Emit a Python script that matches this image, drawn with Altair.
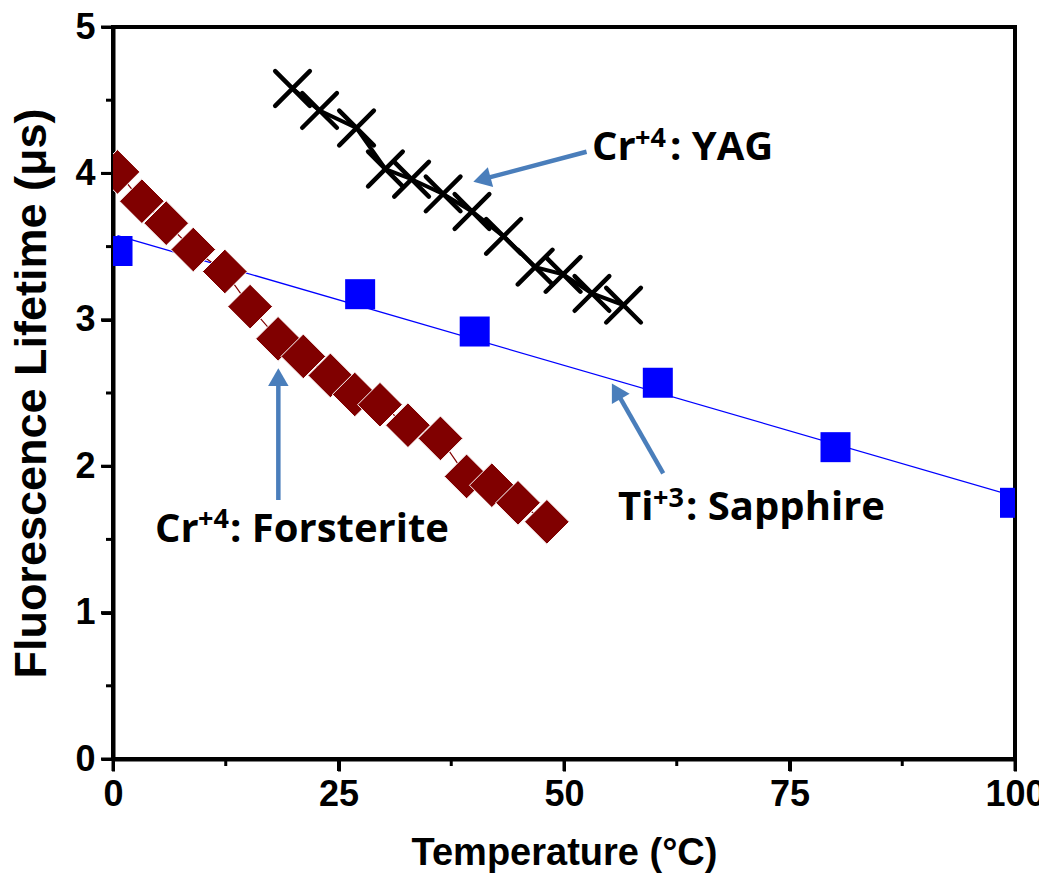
import altair as alt
import pandas as pd

# ---- data ----
yag_t = [19.9, 22.9, 27.0, 30.2, 33.1, 36.6, 39.8, 43.3, 46.8, 49.9, 53.1, 56.6]
yag_tau = [4.58, 4.43, 4.31, 4.03, 3.96, 3.86, 3.74, 3.57, 3.36, 3.31, 3.18, 3.10]

fo_t = [0.5, 3.2, 5.9, 8.9, 12.4, 15.2, 18.3, 21.1, 24.1, 26.8, 29.6, 32.7, 36.3, 39.2, 42.0, 44.9, 48.1]
fo_tau = [4.01, 3.81, 3.66, 3.48, 3.33, 3.09, 2.87, 2.75, 2.62, 2.49, 2.42, 2.28, 2.19, 1.93, 1.87, 1.75, 1.62]

sa_t = [0.5, 27.4, 40.1, 60.4, 80.1, 100.0]
sa_tau = [3.47, 3.175, 2.92, 2.57, 2.13, 1.75]

fit_t = [0.5, 100.0]
fit_tau = [3.575, 1.794]

x_major = [0, 25, 50, 75, 100]
x_minor = [12.5, 37.5, 62.5, 87.5]
y_major = [0, 1, 2, 3, 4, 5]
y_minor = [0.5, 1.5, 2.5, 3.5, 4.5]

# annotation labels (data coordinates): base text, superscript, remainder
base_text = ["Cr", "Cr", "Ti"]
base_t = [53.1, 4.66, 56.0]
base_tau = [4.091, 1.484, 1.633]
sup_text = ["+4", "+4", "+3"]
sup_t = [57.87, 9.42, 59.87]
sup_tau = [4.182, 1.575, 1.723]
rest_text = [": YAG", ": Forsterite", ": Sapphire"]
rest_t = [61.75, 12.97, 63.53]
rest_tau = [4.091, 1.484, 1.633]

# arrows
arrow_t = [52.5, 18.33, 61.0]
arrow_tau = [4.148, 1.769, 1.951]
arrow_t2 = [41.2, 18.33, 55.95]
arrow_tau2 = [3.964, 2.589, 2.495]
head_t = [40.9, 18.33, 55.8]
head_tau = [3.959, 2.609, 2.513]
head_angle = [255, 0, 330]

W, H = 902, 732
XMIN, XMAX, YMIN, YMAX = 0, 100, 0, 5
MINOR_PX = 7
MAJOR_PX = 12


def tick_frames(vals, length_px, axis):
    if axis == "x":
        d = length_px / H * (YMAX - YMIN)
        return pd.DataFrame({"t": vals, "tau": [YMIN - d] * len(vals),
                             "t2": vals, "tau2": [YMIN] * len(vals)})
    d = length_px / W * (XMAX - XMIN)
    return pd.DataFrame({"t": [XMIN - d] * len(vals), "tau": vals,
                         "t2": [XMIN] * len(vals), "tau2": vals})


yag = pd.DataFrame({"t": yag_t, "tau": yag_tau, "i": range(len(yag_t))})
fo = pd.DataFrame({"t": fo_t, "tau": fo_tau, "i": range(len(fo_t))})
sa = pd.DataFrame({"t": sa_t, "tau": sa_tau})
fit = pd.DataFrame({"t": fit_t, "tau": fit_tau})
base_df = pd.DataFrame({"t": base_t, "tau": base_tau, "txt": base_text})
sup_df = pd.DataFrame({"t": sup_t, "tau": sup_tau, "txt": sup_text})
rest_df = pd.DataFrame({"t": rest_t, "tau": rest_tau, "txt": rest_text})
arrows = pd.DataFrame({"t": arrow_t, "tau": arrow_tau, "t2": arrow_t2, "tau2": arrow_tau2})
heads = pd.DataFrame({"t": head_t, "tau": head_tau, "ang": head_angle})
ticks_df = pd.concat([
    tick_frames(x_minor, MINOR_PX, "x"), tick_frames(x_major, MAJOR_PX, "x"),
    tick_frames(y_minor, MINOR_PX, "y"), tick_frames(y_major, MAJOR_PX, "y"),
], ignore_index=True)

AXFONT = "Liberation Sans"
LBLFONT = "Open Sans"

xaxis = alt.Axis(values=x_major, format="d", tickSize=MAJOR_PX, labelFlush=False,
                 labelOverlap=False, labelPadding=6, titlePadding=22, grid=False,
                 titleFontSize=38)
yaxis = alt.Axis(values=y_major, format="d", tickSize=MAJOR_PX, labelFlush=False,
                 labelOverlap=False, labelPadding=6, titlePadding=20, grid=False,
                 titleFontSize=45)

X = alt.X("t:Q", scale=alt.Scale(domain=[XMIN, XMAX], nice=False, zero=False),
          axis=xaxis, title="Temperature (\u00b0C)")
Y = alt.Y("tau:Q", scale=alt.Scale(domain=[YMIN, YMAX], nice=False, zero=False),
          axis=yaxis, title="Fluorescence Lifetime (\u03bcs)")

fit_line = alt.Chart(fit).mark_line(color="#0000FF", strokeWidth=1.3, clip=True).encode(x=X, y=Y)
sa_pts = alt.Chart(sa).mark_point(shape="square", filled=True, color="#0000FF",
                                  size=900, opacity=1, clip=True).encode(x=X, y=Y)

fo_line = alt.Chart(fo).mark_line(color="#800000", strokeWidth=1.2, clip=True).encode(
    x=X, y=Y, order="i:Q")
fo_pts = alt.Chart(fo).mark_point(shape="diamond", filled=True, fill="#800000",
                                  stroke="white", strokeWidth=1, size=2000,
                                  opacity=1, clip=True).encode(x=X, y=Y)

yag_line = alt.Chart(yag).mark_line(color="black", strokeWidth=4, clip=True).encode(
    x=X, y=Y, order="i:Q")
yag_pts = alt.Chart(yag).mark_point(shape="M-1,-1L1,1M-1,1L1,-1", filled=False,
                                    color="black", strokeWidth=4.5, strokeCap="round",
                                    size=1200, opacity=1, clip=True).encode(x=X, y=Y)

arrow_lines = alt.Chart(arrows).mark_rule(color="#4A7EBB", strokeWidth=4.5).encode(
    x=X, y=Y, x2="t2:Q", y2="tau2:Q")
arrow_heads = alt.Chart(heads).mark_point(shape="triangle-up", filled=True, color="#4A7EBB",
                                          size=420, opacity=1).encode(
    x=X, y=Y, angle=alt.Angle("ang:Q", scale=None))

tick_rules = alt.Chart(ticks_df).mark_rule(color="black", strokeWidth=3).encode(
    x=X, y=Y, x2="t2:Q", y2="tau2:Q")

base_txt = alt.Chart(base_df).mark_text(align="left", baseline="alphabetic", font=LBLFONT,
                                        fontWeight="bold", fontSize=40, color="black").encode(
    x=X, y=Y, text="txt:N")
sup_txt = alt.Chart(sup_df).mark_text(align="left", baseline="alphabetic", font=LBLFONT,
                                      fontWeight="bold", fontSize=27, color="black").encode(
    x=X, y=Y, text="txt:N")
rest_txt = alt.Chart(rest_df).mark_text(align="left", baseline="alphabetic", font=LBLFONT,
                                        fontWeight="bold", fontSize=40, color="black").encode(
    x=X, y=Y, text="txt:N")

chart = alt.layer(
    tick_rules,
    fit_line, sa_pts, fo_line, fo_pts, yag_line, yag_pts, arrow_lines, arrow_heads,
    base_txt, sup_txt, rest_txt
).properties(
    width=W, height=H,
    autosize=alt.AutoSizeParams(type="none"),
    padding={"left": 105, "top": 19, "right": 24, "bottom": 121},
).configure_view(
    stroke="black", strokeWidth=4
).configure_axis(
    domainColor="black", domainWidth=4,
    tickColor="black", tickWidth=3,
    labelFont=AXFONT, labelFontSize=36, labelFontWeight="bold", labelColor="black",
    titleFont=AXFONT, titleFontWeight="bold", titleColor="black",
)

chart.save("out.html", embed_options={"renderer": "svg", "actions": False})
